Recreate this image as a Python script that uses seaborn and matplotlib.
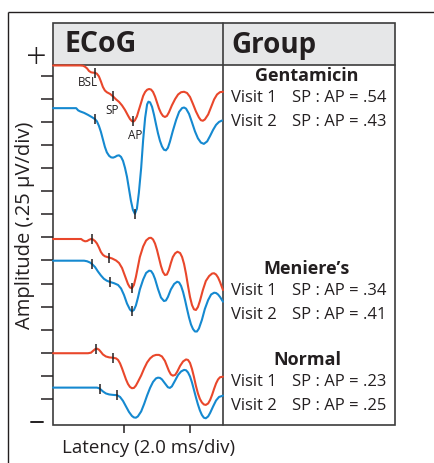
import numpy as np
import pandas as pd
import matplotlib
matplotlib.use("Agg")
import matplotlib.pyplot as plt
import seaborn as sns

# ---------------- data (latency in ms, amplitude in µV relative to pre-stimulus baseline)
gent_v1_lat = [-0.15, 0.67, 0.76, 0.82, 0.88, 0.94, 1.00, 1.06, 1.12, 1.18, 1.24, 1.30, 1.36, 1.42, 1.48, 1.58, 1.67, 1.76, 1.85,
               1.94, 2.03, 2.12, 2.18, 2.24, 2.29, 2.33, 2.39, 2.45, 2.52, 2.58, 2.64, 2.70, 2.76, 2.82, 2.88, 2.94, 3.00, 3.06,
               3.12, 3.18, 3.24, 3.30, 3.36, 3.45, 3.55, 3.64, 3.73, 3.82, 3.91, 4.00, 4.09, 4.18, 4.27, 4.33, 4.39, 4.45, 4.55,
               4.64, 4.73, 4.82, 4.91, 5.00]
gent_v1_amp = [0, 0, -0.003, -0.014, -0.032, -0.060, -0.074, -0.078, -0.079, -0.090, -0.119, -0.173, -0.233, -0.271, -0.290, -0.309,
               -0.336, -0.368, -0.395, -0.433, -0.482, -0.542, -0.580, -0.603, -0.607, -0.594, -0.553, -0.482, -0.401, -0.330, -0.287,
               -0.263, -0.255, -0.261, -0.287, -0.336, -0.401, -0.466, -0.515, -0.547, -0.558, -0.547, -0.509, -0.433, -0.363, -0.314,
               -0.290, -0.285, -0.298, -0.341, -0.417, -0.498, -0.563, -0.593, -0.599, -0.585, -0.531, -0.450, -0.368, -0.314, -0.289, -0.285]
gent_v2_lat = [-0.15, 0.55, 0.61, 0.67, 0.79, 0.91, 1.03, 1.12, 1.18, 1.24, 1.30, 1.36, 1.42, 1.48, 1.55, 1.61, 1.67, 1.73, 1.79,
               1.85, 1.91, 1.97, 2.03, 2.09, 2.15, 2.21, 2.27, 2.33, 2.39, 2.45, 2.52, 2.58, 2.64, 2.70, 2.74, 2.79, 2.85, 2.91,
               2.97, 3.03, 3.09, 3.15, 3.21, 3.27, 3.33, 3.39, 3.48, 3.58, 3.67, 3.76, 3.82, 3.88, 3.97, 4.06, 4.15, 4.24, 4.33,
               4.42, 4.52, 4.61, 4.70, 4.79, 4.88, 4.97]
gent_v2_amp = [0, 0, -0.024, -0.035, -0.051, -0.073, -0.098, -0.119, -0.143, -0.192, -0.257, -0.338, -0.419, -0.479, -0.517, -0.533,
               -0.536, -0.528, -0.515, -0.511, -0.528, -0.571, -0.647, -0.744, -0.874, -1.004, -1.102, -1.145, -1.091, -0.918, -0.647,
               -0.344, -0.105, 0.041, 0.070, 0.063, 0.014, -0.073, -0.175, -0.273, -0.354, -0.414, -0.450, -0.457, -0.430, -0.365,
               -0.246, -0.127, -0.040, 0.001, 0.007, -0.005, -0.062, -0.154, -0.251, -0.327, -0.373, -0.387, -0.360, -0.300, -0.235,
               -0.181, -0.149, -0.134]
men_v1_lat = [-0.15, 0.70, 0.76, 0.82, 0.88, 0.94, 1.00, 1.06, 1.12, 1.18, 1.24, 1.30, 1.36, 1.42, 1.52, 1.64, 1.76, 1.85, 1.94,
              2.03, 2.12, 2.18, 2.24, 2.30, 2.36, 2.42, 2.48, 2.58, 2.67, 2.76, 2.82, 2.88, 2.94, 3.00, 3.06, 3.12, 3.18, 3.24,
              3.30, 3.36, 3.42, 3.48, 3.55, 3.62, 3.70, 3.76, 3.82, 3.88, 3.94, 4.00, 4.06, 4.12, 4.18, 4.24, 4.30, 4.39, 4.48,
              4.58, 4.67, 4.73, 4.79, 4.85, 4.91, 5.00]
men_v1_amp = [0, 0, -0.016, -0.025, -0.022, -0.009, 0, -0.005, -0.022, -0.049, -0.092, -0.141, -0.171, -0.187, -0.198, -0.211,
              -0.233, -0.260, -0.314, -0.401, -0.488, -0.525, -0.534, -0.498, -0.412, -0.303, -0.195, -0.081, -0.016, 0.011, 0.013,
              -0.005, -0.049, -0.119, -0.206, -0.293, -0.358, -0.390, -0.385, -0.336, -0.260, -0.195, -0.155, -0.138, -0.152, -0.195,
              -0.271, -0.379, -0.509, -0.628, -0.715, -0.762, -0.769, -0.737, -0.672, -0.553, -0.455, -0.401, -0.374, -0.371, -0.385,
              -0.417, -0.466, -0.553]
men_v2_lat = [-0.15, 0.79, 0.88, 0.97, 1.03, 1.12, 1.21, 1.30, 1.39, 1.48, 1.58, 1.70, 1.82, 1.91, 2.00, 2.09, 2.18, 2.24, 2.30,
              2.36, 2.42, 2.48, 2.58, 2.67, 2.76, 2.82, 2.88, 2.94, 3.03, 3.12, 3.21, 3.27, 3.33, 3.42, 3.52, 3.61, 3.67, 3.73,
              3.79, 3.85, 3.91, 3.97, 4.03, 4.09, 4.15, 4.21, 4.27, 4.36, 4.45, 4.55, 4.64, 4.73, 4.79, 4.85, 4.91, 5.00]
men_v2_amp = [0, 0, -0.006, -0.020, -0.036, -0.068, -0.117, -0.160, -0.196, -0.217, -0.231, -0.244, -0.263, -0.301, -0.372, -0.464,
              -0.529, -0.548, -0.534, -0.485, -0.404, -0.312, -0.204, -0.133, -0.108, -0.112, -0.144, -0.198, -0.307, -0.399, -0.437,
              -0.431, -0.393, -0.312, -0.252, -0.228, -0.236, -0.274, -0.339, -0.426, -0.523, -0.615, -0.691, -0.740, -0.767, -0.767,
              -0.735, -0.642, -0.523, -0.426, -0.366, -0.347, -0.350, -0.366, -0.393, -0.444]
norm_v1_lat = [-0.15, 0.91, 1.00, 1.06, 1.12, 1.18, 1.24, 1.30, 1.36, 1.45, 1.55, 1.67, 1.76, 1.82, 1.88, 1.94, 2.00, 2.06, 2.12,
               2.18, 2.24, 2.30, 2.36, 2.42, 2.52, 2.61, 2.70, 2.79, 2.88, 2.97, 3.06, 3.15, 3.24, 3.30, 3.36, 3.42, 3.48, 3.55,
               3.61, 3.70, 3.79, 3.88, 3.94, 4.00, 4.06, 4.12, 4.18, 4.24, 4.30, 4.36, 4.42, 4.48, 4.55, 4.61, 4.67, 4.73, 4.79,
               4.85, 4.91, 5.00]
norm_v1_amp = [0, 0, 0.006, 0.025, 0.043, 0.050, 0.039, 0.014, -0.013, -0.035, -0.045, -0.049, -0.056, -0.073, -0.110, -0.164,
               -0.224, -0.284, -0.333, -0.365, -0.379, -0.376, -0.351, -0.311, -0.241, -0.165, -0.100, -0.056, -0.029, -0.018, -0.018,
               -0.035, -0.083, -0.137, -0.191, -0.230, -0.243, -0.235, -0.202, -0.137, -0.089, -0.067, -0.073, -0.105, -0.171, -0.257,
               -0.354, -0.435, -0.495, -0.533, -0.555, -0.560, -0.544, -0.506, -0.451, -0.386, -0.327, -0.284, -0.260, -0.254]
norm_v2_lat = [-0.15, 1.18, 1.24, 1.30, 1.36, 1.45, 1.55, 1.67, 1.79, 1.88, 1.97, 2.06, 2.15, 2.24, 2.30, 2.36, 2.42, 2.52, 2.61,
               2.70, 2.79, 2.88, 2.97, 3.03, 3.09, 3.15, 3.24, 3.33, 3.39, 3.45, 3.55, 3.64, 3.73, 3.82, 3.88, 3.94, 4.00, 4.06,
               4.12, 4.18, 4.24, 4.30, 4.36, 4.42, 4.48, 4.55, 4.61, 4.70, 4.79, 4.88, 5.00]
norm_v2_amp = [0, 0, -0.006, -0.022, -0.041, -0.063, -0.074, -0.079, -0.082, -0.101, -0.144, -0.204, -0.263, -0.307, -0.323, -0.326,
               -0.312, -0.258, -0.177, -0.085, -0.003, 0.062, 0.100, 0.108, 0.105, 0.089, 0.046, 0.004, -0.003, 0.013, 0.078, 0.138,
               0.175, 0.192, 0.188, 0.164, 0.121, 0.056, -0.025, -0.106, -0.182, -0.247, -0.296, -0.326, -0.332, -0.312, -0.274,
               -0.204, -0.139, -0.101, -0.087]

# marker latencies (BSL, SP, AP) in ms
gent_v1_marks = [1.12, 1.67, 2.27]
gent_v2_marks = [1.12, 2.33]
men_v1_marks = [1.03, 1.55, 2.24]
men_v2_marks = [1.03, 1.58, 2.24]
norm_v1_marks = [1.15, 1.67]
norm_v2_marks = [1.27, 1.79]

groups = ["Gentamicin", "Meniere\u2019s", "Normal"]
visit_labels = ["Visit 1", "Visit 2"]
ratios = [[".54", ".43"], [".34", ".41"], [".23", ".25"]]

# ---------------- styling / layout
UV_PER_DIV = 0.25
offsets_div = [15.45, 13.60, 7.93, 6.99, 2.98, 1.49]
RED = "#e9472b"
BLUE = "#1589d0"
DARK = "#231f20"
EDGE = "#3c3c3c"

sns.set_style("white")
plt.rcParams["font.family"] = ["Open Sans", "DejaVu Sans"]

W, H = 435, 463
fig = plt.figure(figsize=(W / 100, H / 100), dpi=100)

# overlay axes in pixel coordinates for frame / table
ov = fig.add_axes([0, 0, 1, 1], zorder=0)
ov.set_xlim(0, W)
ov.set_ylim(H, 0)
ov.axis("off")

# plot axes
x0, x1, y0, y1 = 53, 223, 65, 425
ax = fig.add_axes([x0 / W, 1 - y1 / H, (x1 - x0) / W, (y1 - y0) / H], zorder=2)
ax.patch.set_alpha(0)

traces = [
    (gent_v1_lat, gent_v1_amp, gent_v1_marks, RED),
    (gent_v2_lat, gent_v2_amp, gent_v2_marks, BLUE),
    (men_v1_lat, men_v1_amp, men_v1_marks, RED),
    (men_v2_lat, men_v2_amp, men_v2_marks, BLUE),
    (norm_v1_lat, norm_v1_amp, norm_v1_marks, RED),
    (norm_v2_lat, norm_v2_amp, norm_v2_marks, BLUE),
]
for (lat, amp, marks, col), off in zip(traces, offsets_div):
    df = pd.DataFrame({"lat": lat, "y": off + np.array(amp) / UV_PER_DIV})
    sns.lineplot(data=df, x="lat", y="y", color=col, lw=1.5, ax=ax,
                 sort=False, estimator=None, clip_on=False)
    ax.lines[-1].set_solid_joinstyle("round")
    my = np.interp(marks, df["lat"], df["y"])
    ax.plot(marks, my, ls="none", marker="|", ms=7, mew=1.1, color=DARK, zorder=5, clip_on=False)

ax.set_xlim(-0.152, 5.0)
ax.set_ylim(-0.13, 15.47)
ax.set_xticks([2, 4])
ax.set_yticks(np.arange(1, 16))
ax.set_xticklabels([])
ax.set_yticklabels([])
ax.tick_params(axis="y", direction="out", length=8.6, width=1.1, color=DARK, left=True)
ax.tick_params(axis="x", direction="out", length=6, width=1.1, color=DARK, bottom=True)
for s in ax.spines.values():
    s.set_visible(False)
ax.set_xlabel("")
ax.set_ylabel("")

# peak labels
ax.text(0.91, 14.72, "BSL", fontsize=8.5, ha="center", va="center", color=DARK)
ax.text(1.64, 13.5, "SP", fontsize=8.5, ha="center", va="center", color=DARK)
ax.text(2.33, 12.42, "AP", fontsize=8.5, ha="center", va="center", color=DARK)

# outer frame
ov.plot([8, W], [12, 12], color=DARK, lw=1.0, solid_capstyle="butt")
ov.plot([8, 8], [12, H], color=DARK, lw=1.0, solid_capstyle="butt")

# table header
ov.add_patch(plt.Rectangle((53, 23), 342, 42, facecolor="#e6e7e8", edgecolor="none", zorder=1))
ov.add_patch(plt.Rectangle((53, 23), 342, 402, facecolor="none", edgecolor=EDGE, lw=1.2, zorder=3))
ov.plot([53, 395], [65, 65], color=EDGE, lw=1.2, zorder=3)
ov.plot([223, 223], [23, 425], color=EDGE, lw=1.2, zorder=3)
ov.text(65, 45, "ECoG", fontsize=20.5, fontweight="bold", ha="left", va="center", color=DARK, zorder=4)
ov.text(231, 45, "Group", fontsize=20, fontweight="bold", ha="left", va="center", color=DARK, zorder=4)

# plus / minus
ov.text(36, 60, "+", fontsize=26, ha="center", va="center", color=DARK, fontweight="light")
ov.plot([31, 43], [422, 422], color=DARK, lw=1.4)

# axis labels
ov.text(25, 225, "Amplitude (.25 \u00b5V/div)", fontsize=14.5, rotation=90, ha="center", va="center", color=DARK)
ov.text(149, 448, "Latency (2.0 ms/div)", fontsize=13.5, ha="center", va="center", color=DARK)

# group text
group_y = [76, 269, 360]
for g, gy, rr in zip(groups, group_y, ratios):
    ov.text(307, gy, g, fontsize=13, fontweight="bold", ha="center", va="center", color=DARK)
    for k, (vl, r) in enumerate(zip(visit_labels, rr)):
        yy = gy + 22 + 24 * k
        ov.text(231, yy, vl, fontsize=12, ha="left", va="center", color=DARK)
        ov.text(292, yy, "SP : AP = " + r, fontsize=12, ha="left", va="center", color=DARK)

fig.savefig("out.png", dpi=100)
